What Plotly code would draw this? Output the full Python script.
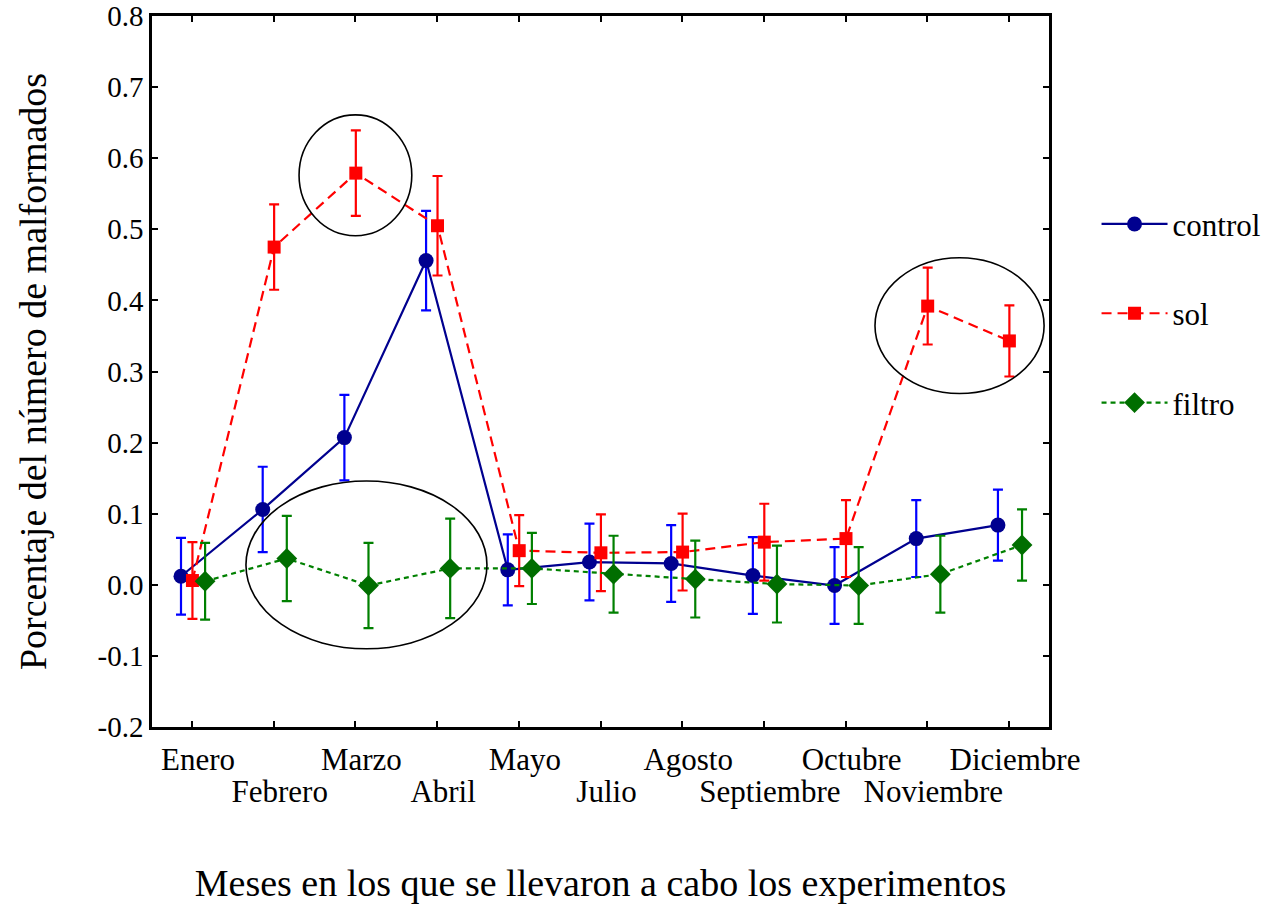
import plotly.graph_objects as go

# Months sampled (no June)
months = ["Enero", "Febrero", "Marzo", "Abril", "Mayo", "Julio", "Agosto",
          "Septiembre", "Octubre", "Noviembre", "Diciembre"]

control_mean = [0.012, 0.106, 0.207, 0.456, 0.021, 0.032, 0.030, 0.013, -0.001, 0.065, 0.084]
control_err = [0.054, 0.060, 0.060, 0.070, 0.050, 0.054, 0.054, 0.054, 0.054, 0.054, 0.050]

sol_mean = [0.006, 0.475, 0.579, 0.505, 0.048, 0.045, 0.046, 0.060, 0.065, 0.392, 0.343]
sol_err = [0.054, 0.060, 0.060, 0.070, 0.050, 0.054, 0.054, 0.054, 0.054, 0.054, 0.050]

filtro_mean = [0.005, 0.037, -0.001, 0.023, 0.023, 0.015, 0.008, 0.001, -0.001, 0.015, 0.056]
filtro_err = [0.054, 0.060, 0.060, 0.070, 0.050, 0.054, 0.054, 0.054, 0.054, 0.054, 0.050]

# y tick values and their labels (plain hyphen for negatives)
y_ticks = [-0.2, -0.1, 0.0, 0.1, 0.2, 0.3, 0.4, 0.5, 0.6, 0.7, 0.8]
y_ticktext = ["-0.2", "-0.1", "0.0", "0.1", "0.2", "0.3", "0.4", "0.5", "0.6", "0.7", "0.8"]

# horizontal dodge of each series around the month position
dodge = {"control": -0.135, "sol": 0.005, "filtro": 0.16}

# highlighted regions: (x0, x1, y0, y1) in axis units
highlights = [
    (1.31, 2.69, 0.491, 0.661),
    (0.66, 3.61, -0.090, 0.146),
    (8.36, 10.43, 0.269, 0.460),
]

FONT = "Liberation Serif, Times New Roman, serif"
idx = list(range(len(months)))

fig = go.Figure()

series = [
    ("control", control_mean, control_err, "#00008F", "#0000FF", "#00008F",
     "solid", "circle", 15),
    ("sol", sol_mean, sol_err, "#FF0000", "#FF0000", "#FF0000",
     "10px,6px", "square", 13),
    ("filtro", filtro_mean, filtro_err, "#008000", "#008000", "#006E00",
     "5px,4px", "diamond", 16),
]

for name, mean, err, lcol, ecol, mcol, dash, sym, msize in series:
    fig.add_trace(go.Scatter(
        x=[i + dodge[name] for i in idx],
        y=mean,
        name=name,
        legendgroup=name,
        mode="lines+markers",
        line=dict(color=lcol, width=2.2, dash=dash),
        marker=dict(symbol=sym, size=msize, color=mcol, line=dict(width=0)),
        error_y=dict(type="data", array=err, visible=True,
                     color=ecol, thickness=2.2, width=5),
        xaxis="x", yaxis="y",
    ))

for x0, x1, y0, y1 in highlights:
    fig.add_shape(type="circle", xref="x", yref="y",
                  x0=x0, x1=x1, y0=y0, y1=y1,
                  line=dict(color="black", width=1.6), layer="above")

# two overlaid x axes to stagger month labels on two rows
even_text = [m if i % 2 == 0 else "" for i, m in enumerate(months)]
odd_vals = [i for i in idx if i % 2 == 1]
odd_text = [months[i] for i in odd_vals]

fig.update_layout(
    width=1280, height=906,
    margin=dict(l=152, r=231, t=16, b=179),
    paper_bgcolor="white", plot_bgcolor="white",
    font=dict(family=FONT, color="black", size=29),
    showlegend=True,
    legend=dict(
        x=1.053, y=0.745, xanchor="left", yanchor="top",
        font=dict(family=FONT, size=31),
        itemwidth=66, tracegroupgap=46, traceorder="grouped",
        bgcolor="rgba(0,0,0,0)",
    ),
    xaxis=dict(
        range=[-0.49, 10.49], automargin=False,
        tickmode="array", tickvals=idx, ticktext=even_text,
        ticks="inside", ticklen=6, tickwidth=2, tickcolor="black",
        showline=True, linecolor="black", linewidth=2.5, mirror="ticks",
        showgrid=False, zeroline=False,
        tickfont=dict(family=FONT, size=31),
        ticklabelshift=6, ticklabelstandoff=3,
        title=dict(text="Meses en los que se llevaron a cabo los experimentos",
                   font=dict(family=FONT, size=38), standoff=94),
    ),
    xaxis2=dict(
        overlaying="x", matches="x", anchor="y", side="bottom", automargin=False,
        tickmode="array", tickvals=odd_vals, ticktext=odd_text,
        ticks="", showline=False, showgrid=False, zeroline=False,
        tickfont=dict(family=FONT, size=31),
        ticklabelshift=6, ticklabelstandoff=43,
    ),
    yaxis=dict(
        range=[-0.2, 0.8], automargin=False,
        tickmode="array", tickvals=y_ticks, ticktext=y_ticktext,
        ticks="inside", ticklen=6, tickwidth=2, tickcolor="black",
        showline=True, linecolor="black", linewidth=2.5, mirror="ticks",
        showgrid=False, zeroline=False,
        tickfont=dict(family=FONT, size=29),
        title=dict(text="Porcentaje del número de malformados",
                   font=dict(family=FONT, size=38), standoff=40),
    ),
)

# empty trace to activate the second x axis
fig.add_trace(go.Scatter(x=[0], y=[None], xaxis="x2", yaxis="y",
                         showlegend=False, hoverinfo="skip"))

fig.write_html("out.html")
